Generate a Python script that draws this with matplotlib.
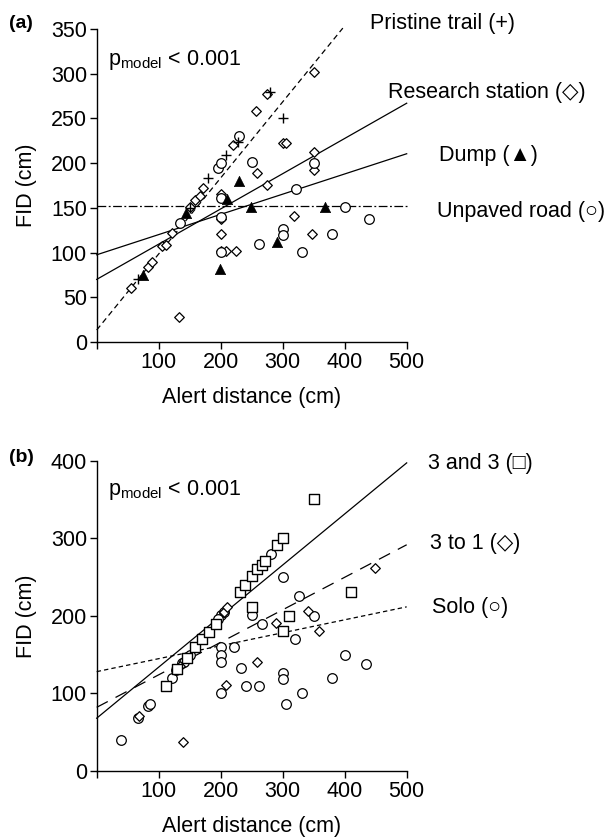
import matplotlib
matplotlib.use('Agg')
import matplotlib.pyplot as plt

plt.rcParams['font.family'] = ['Liberation Sans', 'DejaVu Sans']
plt.rcParams['mathtext.fontset'] = 'custom'
plt.rcParams['mathtext.rm'] = 'Liberation Sans'
plt.rcParams['mathtext.it'] = 'Liberation Sans'

# ---------------- Panel (a) data ----------------
pristine_x = [66, 150, 180, 209, 228, 279, 300]
pristine_y = [70, 150, 183, 209, 224, 280, 250]

research_x = [56, 83, 89, 106, 111, 122, 150, 159, 166, 172, 133, 200, 200, 200, 200, 209, 224,
              220, 257, 275, 275, 259, 300, 305, 319, 350, 350, 350, 347, 380]
research_y = [60, 84, 90, 107, 109, 122, 151, 159, 163, 172, 28, 166, 137, 121, 102, 102, 102,
              220, 258, 277, 175, 189, 222, 222, 141, 213, 192, 302, 121, 121]

dump_x = [74, 144, 210, 199, 230, 249, 291, 369]
dump_y = [75, 144, 160, 82, 180, 151, 112, 151]

unpaved_x = [134, 200, 200, 200, 261, 300, 300, 322, 331, 400, 380, 439, 230, 250, 196, 200, 350]
unpaved_y = [133, 161, 140, 101, 110, 126, 120, 171, 101, 151, 121, 138, 230, 201, 195, 200, 200]

# fitted lines (a): x start/end, y start/end
a_line_names = ['Pristine trail', 'Research station', 'Dump', 'Unpaved road']
a_line_x0 = [0, 0, 0, 0]
a_line_x1 = [397, 500, 500, 500]
a_line_y0 = [13.4, 70, 97.5, 152.5]
a_line_y1 = [351, 267, 210.5, 152.5]

# ---------------- Panel (b) data ----------------
three3_x = [111, 129, 146, 159, 170, 181, 192, 231, 239, 250, 259, 266, 271, 291, 301, 351,
            250, 310, 301, 410]
three3_y = [110, 131, 146, 160, 170, 179, 190, 230, 240, 251, 260, 266, 270, 291, 300, 350,
            211, 200, 180, 230]

three1_x = [69, 139, 209, 258, 289, 341, 359, 449, 205, 210, 135]
three1_y = [71, 37, 111, 141, 191, 206, 181, 262, 205, 211, 135]

solo_x = [39, 67, 83, 86, 121, 128, 137, 141, 150, 200, 205, 250, 266, 281, 301, 320, 326, 350,
          200, 221, 200, 200, 233, 200, 241, 261, 301, 301, 305, 331, 380, 400, 435, 195]
solo_y = [40, 68, 84, 86, 120, 130, 139, 141, 150, 201, 205, 201, 189, 280, 250, 170, 226, 200,
          160, 160, 149, 140, 133, 100, 110, 110, 126, 119, 86, 100, 120, 150, 138, 196]

b_line_names = ['3 and 3', '3 to 1', 'Solo']
b_line_x0 = [0, 0, 0]
b_line_x1 = [500, 500, 500]
b_line_y0 = [68, 82, 128]
b_line_y1 = [397, 291.5, 211.5]

W, H = 607, 838
fig = plt.figure(figsize=(W / 100, H / 100), dpi=100)
fs = 15.5

def px(x, y):
    return x / W, 1 - y / H

def style_axes(ax, ymax, ystep):
    ax.set_xlim(0, 500)
    ax.set_ylim(0, ymax)
    for s in ['top', 'right']:
        ax.spines[s].set_visible(False)
    for s in ['left', 'bottom']:
        ax.spines[s].set_linewidth(1.0)
    ax.set_xticks([0, 100, 200, 300, 400, 500])
    ax.set_xticklabels(['', '100', '200', '300', '400', '500'])
    ax.set_yticks(list(range(0, ymax + 1, ystep)))
    ax.tick_params(direction='out', length=5, width=1, labelsize=fs, pad=2)
    ax.set_xlabel('Alert distance (cm)', fontsize=fs, labelpad=10)
    ax.set_ylabel('FID (cm)', fontsize=fs, labelpad=10)
    ax.patch.set_alpha(0)

# ---- Axes (a)
axa = fig.add_axes([0.1593, 0.5919, 0.5107, 0.3735])
style_axes(axa, 350, 50)
lsa = [(0, (4.5, 3)), '-', '-', (0, (7, 2, 1.5, 2))]
for i in range(4):
    axa.plot([a_line_x0[i], a_line_x1[i]], [a_line_y0[i], a_line_y1[i]], color='black',
             lw=0.9, linestyle=lsa[i], clip_on=False, zorder=2)
axa.scatter(research_x, research_y, marker='D', s=24, facecolors='white', edgecolors='black',
            linewidths=0.9, zorder=3, clip_on=False)
axa.scatter(unpaved_x, unpaved_y, marker='o', s=48, facecolors='white', edgecolors='black',
            linewidths=0.9, zorder=3, clip_on=False)
axa.scatter(dump_x, dump_y, marker='^', s=55, facecolors='black', edgecolors='black',
            linewidths=0.5, zorder=4, clip_on=False)
axa.scatter(pristine_x, pristine_y, marker='+', s=60, color='black', linewidths=1.0,
            zorder=4, clip_on=False)

# ---- Axes (b)
axb = fig.add_axes([0.1593, 0.0800, 0.5107, 0.3704])
style_axes(axb, 400, 100)
lsb = ['-', (0, (10, 7)), (0, (3.5, 2.5))]
for i in range(3):
    axb.plot([b_line_x0[i], b_line_x1[i]], [b_line_y0[i], b_line_y1[i]], color='black',
             lw=0.9, linestyle=lsb[i], clip_on=False, zorder=2)
axb.scatter(solo_x, solo_y, marker='o', s=48, facecolors='white', edgecolors='black',
            linewidths=0.9, zorder=3, clip_on=False)
axb.scatter(three1_x, three1_y, marker='D', s=24, facecolors='white', edgecolors='black',
            linewidths=0.9, zorder=3, clip_on=False)
axb.scatter(three3_x, three3_y, marker='s', s=52, facecolors='white', edgecolors='black',
            linewidths=1.0, zorder=4, clip_on=False)

# ---- texts
fig.text(*px(9, 23), '(a)', fontsize=14, fontweight='bold', va='center', ha='left')
fig.text(*px(9, 457), '(b)', fontsize=14, fontweight='bold', va='center', ha='left')
fig.text(*px(108, 60), r'p$_{\mathrm{model}}$ < 0.001', fontsize=fs, va='center', ha='left')
fig.text(*px(108, 490), r'p$_{\mathrm{model}}$ < 0.001', fontsize=fs, va='center', ha='left')

fig.text(*px(370, 23), 'Pristine trail (+)', fontsize=fs, va='center', ha='left')
fig.text(*px(388, 92), 'Research station (\u25C7)', fontsize=fs, va='center', ha='left')
fig.text(*px(439, 156), 'Dump (\u25B2)', fontsize=fs, va='center', ha='left')
fig.text(*px(437, 212), 'Unpaved road (\u25CB)', fontsize=fs, va='center', ha='left')

fig.text(*px(428, 463), '3 and 3 (\u25A1)', fontsize=fs, va='center', ha='left')
fig.text(*px(430, 543), '3 to 1 (\u25C7)', fontsize=fs, va='center', ha='left')
fig.text(*px(432, 607), 'Solo (\u25CB)', fontsize=fs, va='center', ha='left')

fig.savefig('out.png', dpi=100)
